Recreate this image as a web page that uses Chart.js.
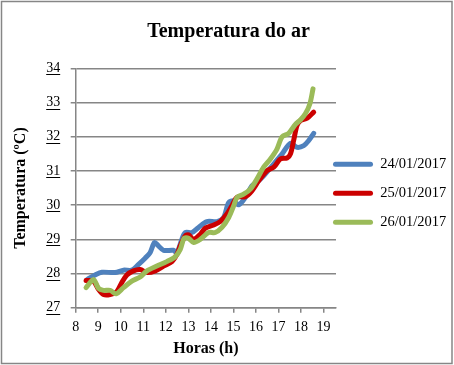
<!DOCTYPE html>
<html><head><meta charset="utf-8">
<script src="https://cdn.jsdelivr.net/npm/chart.js@4/dist/chart.umd.min.js"></script>
<style>html,body{margin:0;padding:0;background:#fff}canvas{display:block}</style>
</head><body>
<canvas id="c" width="454" height="365"></canvas>
<script>
const chartTitle = 'Temperatura do ar';
const xTitle = 'Horas (h)';
const yTitle = 'Temperatura (ºC)';
const xTicks = [8, 9, 10, 11, 12, 13, 14, 15, 16, 17, 18, 19];
const yTicks = [27, 28, 29, 30, 31, 32, 33, 34];

const label24 = '24/01/2017';
const hours24 = [8.52, 8.86, 9.16, 9.75, 10.12, 10.49, 10.79, 11.08, 11.30, 11.50, 11.67, 11.90, 12.34, 12.49, 12.71, 12.86, 13.16, 13.45, 13.82, 14.27, 14.56, 14.79, 15.00, 15.23, 15.53, 15.82, 16.04, 16.34, 16.78, 17.16, 17.53, 17.82, 18.12, 18.34, 18.56];
const temp24  = [27.83, 27.96, 28.04, 28.03, 28.10, 28.10, 28.27, 28.45, 28.61, 28.91, 28.81, 28.68, 28.68, 28.61, 29.00, 29.20, 29.20, 29.35, 29.52, 29.52, 29.64, 30.08, 30.13, 30.01, 30.23, 30.57, 30.67, 30.86, 31.20, 31.50, 31.81, 31.69, 31.74, 31.89, 32.10];

const label25 = '25/01/2017';
const hours25 = [8.46, 8.79, 9.01, 9.23, 9.53, 9.82, 10.04, 10.27, 10.56, 10.86, 11.16, 11.53, 11.90, 12.27, 12.49, 12.64, 12.86, 13.01, 13.23, 13.53, 13.75, 14.12, 14.41, 14.71, 14.93, 15.16, 15.53, 15.82, 16.12, 16.49, 16.79, 17.08, 17.38, 17.53, 17.67, 17.82, 17.97, 18.27, 18.56];
const temp25  = [27.80, 27.78, 27.54, 27.39, 27.39, 27.47, 27.73, 27.96, 28.08, 28.12, 28.03, 28.08, 28.22, 28.35, 28.56, 28.81, 29.10, 29.13, 29.00, 29.15, 29.33, 29.42, 29.52, 29.74, 29.98, 30.23, 30.25, 30.42, 30.71, 31.01, 31.11, 31.35, 31.38, 31.50, 31.89, 32.33, 32.47, 32.54, 32.72];

const label26 = '26/01/2017';
const hours26 = [8.46, 8.79, 9.01, 9.23, 9.53, 9.79, 10.12, 10.49, 10.86, 11.16, 11.60, 12.04, 12.41, 12.64, 12.81, 13.01, 13.23, 13.53, 13.90, 14.19, 14.49, 14.79, 15.01, 15.16, 15.45, 15.75, 16.04, 16.34, 16.64, 16.93, 17.16, 17.45, 17.75, 17.97, 18.19, 18.39, 18.53];
const temp26  = [27.59, 27.83, 27.57, 27.51, 27.51, 27.41, 27.59, 27.78, 27.90, 28.08, 28.22, 28.35, 28.49, 28.71, 29.03, 29.03, 28.91, 29.00, 29.20, 29.20, 29.35, 29.64, 29.98, 30.23, 30.32, 30.47, 30.76, 31.11, 31.35, 31.64, 32.00, 32.10, 32.36, 32.49, 32.67, 32.96, 33.40];

const FONT = "'Liberation Serif', 'Times New Roman', serif";
const GRID = '#868686';
const TICK_SIZE = 14;

function pts(xs, ys) { return xs.map((x, i) => ({x: x, y: ys[i]})); }
function ds(label, xs, ys, color) {
  return {label: label, data: pts(xs, ys), borderColor: color, backgroundColor: color,
    borderWidth: 5, pointRadius: 0, tension: 0.3, fill: false, borderCapStyle: 'round', borderJoinStyle: 'round'};
}

const underlinePlugin = {
  id: 'underline',
  afterDraw(chart) {
    const s = chart.scales.y, ctx = chart.ctx;
    ctx.save();
    ctx.font = TICK_SIZE + 'px ' + FONT;
    ctx.strokeStyle = '#000';
    ctx.lineWidth = 1;
    const xr = s.right - 5 - 10.5;
    s.ticks.forEach((t, i) => {
      const y = s.getPixelForTick(i);
      const w = ctx.measureText(String(t.label)).width;
      ctx.beginPath();
      ctx.moveTo(xr - w, Math.round(y + 6) + 0.5);
      ctx.lineTo(xr, Math.round(y + 6) + 0.5);
      ctx.stroke();
    });
    ctx.restore();
  }
};
const borderPlugin = {
  id: 'outerBorder',
  afterDraw(chart) {
    const ctx = chart.ctx;
    ctx.save();
    ctx.strokeStyle = GRID;
    ctx.lineWidth = 1.5;
    ctx.strokeRect(1.5, 1.5, chart.width - 3.5, chart.height - 3);
    ctx.restore();
  }
};
const legendPos = {
  id: 'legendPos',
  afterLayout(chart) {
    const lg = chart.legend;
    if (!lg) return;
    lg.left = 318.5; lg.right = 454;
    lg.top = 101; lg.bottom = 285.5;
  }
};

new Chart(document.getElementById('c'), {
  type: 'line',
  data: {
    datasets: [
      ds(label26, hours26, temp26, '#9BBB59'),
      ds(label25, hours25, temp25, '#CC0000'),
      ds(label24, hours24, temp24, '#4F81BD')
    ]
  },
  plugins: [legendPos, underlinePlugin, borderPlugin],
  options: {
    responsive: false,
    animation: false,
    layout: {padding: {left: 3, right: 0, top: 0, bottom: 0}},
    plugins: {
      tooltip: {enabled: false},
      title: {display: true, text: chartTitle, color: '#000',
        font: {family: FONT, size: 20, weight: 'bold'}, padding: {top: 19.7, bottom: 24.6}},
      legend: {
        position: 'right', reverse: true, maxWidth: 118,
        labels: {
          font: {family: FONT, size: 14.5}, color: '#000',
          boxWidth: 40, boxHeight: 5, padding: 14.5, useBorderRadius: true, borderRadius: 2.5,
          generateLabels(chart) {
            return Chart.defaults.plugins.legend.labels.generateLabels(chart).map(l => Object.assign(l, {lineWidth: 0, fillStyle: l.strokeStyle}));
          }
        }
      }
    },
    scales: {
      x: {
        type: 'linear', min: 8, max: 19.55,
        afterBuildTicks(scale) { scale.ticks = xTicks.map(v => ({value: v})); },
        ticks: {color: '#000', font: {family: FONT, size: TICK_SIZE}, padding: 6.6, maxRotation: 0, autoSkip: false},
        grid: {drawOnChartArea: false, drawTicks: true, tickLength: 5, color: GRID, lineWidth: 1.5},
        border: {display: true, color: GRID, width: 1.5},
        title: {display: true, text: xTitle, color: '#000', font: {family: FONT, size: 16, weight: 'bold'}, padding: {top: -3.4, bottom: 6.4}}
      },
      y: {
        type: 'linear', min: 27, max: 34,
        afterBuildTicks(scale) { scale.ticks = yTicks.map(v => ({value: v})); },
        ticks: {color: '#000', font: {family: FONT, size: TICK_SIZE}, padding: 10.5},
        grid: {color: GRID, lineWidth: 1.5, tickLength: 5},
        border: {display: true, color: GRID, width: 1.5},
        title: {display: true, text: yTitle, color: '#000', font: {family: FONT, size: 16, weight: 'bold'}, padding: {top: 8.4, bottom: 5.1}}
      }
    }
  }
});
</script>
</body></html>
